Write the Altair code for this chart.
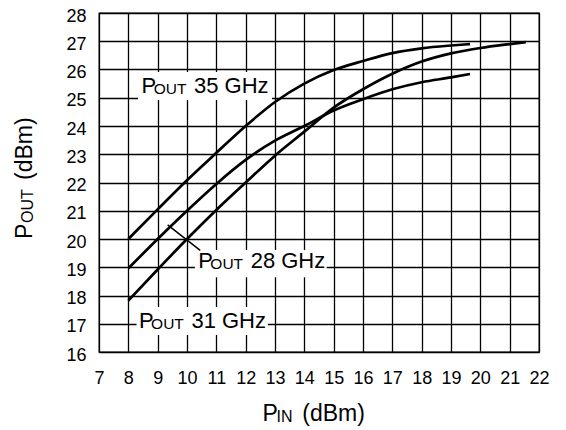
import altair as alt
import pandas as pd

# Axis ticks
x_ticks = list(range(7, 23))
y_ticks = list(range(16, 29))

# Curves (P_IN dBm -> P_OUT dBm)
pin_35 = [8, 9, 10, 11, 12, 13, 14, 15, 16, 17, 18, 19, 19.65]
pout_35 = [20.0, 21.05, 22.08, 23.05, 24.0, 24.85, 25.5, 25.98, 26.3, 26.58, 26.75, 26.85, 26.9]

pin_28 = [8, 9, 10, 11, 12, 13, 14, 15, 16, 17, 18, 19, 19.65]
pout_28 = [18.96, 20.0, 21.0, 21.95, 22.8, 23.48, 24.0, 24.55, 24.95, 25.3, 25.55, 25.72, 25.84]

pin_31 = [8, 9, 10, 11, 12, 13, 14, 15, 16, 17, 18, 19, 20, 21, 21.55]
pout_31 = [17.82, 18.92, 20.0, 21.03, 22.0, 22.95, 23.8, 24.65, 25.3, 25.85, 26.28, 26.57, 26.76, 26.9, 26.97]

# Curve labels (annotation anchors in data units)
label_main = ["P", "P", "P"]
label_sub = ["OUT", "OUT", "OUT"]
label_rest = ["35 GHz", "28 GHz", "31 GHz"]
label_x = [8.45, 10.38, 8.36]
label_y = [25.16, 18.96, 16.85]
box_x1 = [8.33, 10.27, 8.28]
box_x2 = [12.9, 14.76, 12.76]
box_y1 = [24.92, 18.65, 16.6]
box_y2 = [25.91, 19.61, 17.59]

# Leader line for the 28 GHz label
lead_x1 = [9.34]
lead_y1 = [20.5]
lead_x2 = [10.45]
lead_y2 = [19.6]

curves = pd.concat([
    pd.DataFrame({"pin": pin_35, "pout": pout_35, "series": "35 GHz"}),
    pd.DataFrame({"pin": pin_28, "pout": pout_28, "series": "28 GHz"}),
    pd.DataFrame({"pin": pin_31, "pout": pout_31, "series": "31 GHz"}),
], ignore_index=True)

labels = pd.DataFrame({
    "main": label_main, "sub": label_sub, "rest": label_rest,
    "x": label_x, "y": label_y,
    "x1": box_x1, "x2": box_x2, "y1": box_y1, "y2": box_y2,
})
leader = pd.DataFrame({"x": lead_x1, "y": lead_y1, "x2": lead_x2, "y2": lead_y2})
one = pd.DataFrame({"a": [0]})

FONT = "Liberation Sans"
TICKFONT = "Liberation Sans"

xs = alt.Scale(domain=[7, 22], nice=False, zero=False)
ys = alt.Scale(domain=[16, 28], nice=False, zero=False)

x_axis = alt.Axis(values=x_ticks, title=None, grid=True, ticks=False, tickSize=0,
                  domain=False, labelFont=TICKFONT, labelFontSize=18, labelPadding=17,
                  labelColor="black", gridColor="black", gridWidth=1.3, gridOpacity=1,
                  labelFlush=False, labelOverlap=False)
y_axis = alt.Axis(values=y_ticks, title=None, grid=True, ticks=False, tickSize=0,
                  domain=False, labelFont=TICKFONT, labelFontSize=18, labelPadding=13,
                  labelOffset=3,
                  labelColor="black", gridColor="black", gridWidth=1.3, gridOpacity=1,
                  labelFlush=False, labelOverlap=False)


def X(field):
    return alt.X(field, scale=xs, axis=x_axis)


def Y(field):
    return alt.Y(field, scale=ys, axis=y_axis)


lines = alt.Chart(curves).mark_line(color="black", strokeWidth=2.7, interpolate="monotone").encode(
    x=X("pin:Q"), y=Y("pout:Q"), detail="series:N",
)

boxes = alt.Chart(labels).mark_rect(color="white", opacity=1).encode(
    x=X("x1:Q"), x2="x2:Q", y=Y("y1:Q"), y2="y2:Q",
)

t_main = alt.Chart(labels).mark_text(font=FONT, fontSize=22, align="left", baseline="alphabetic",
                                     color="black").encode(
    x=X("x:Q"), y=Y("y:Q"), text="main:N")
t_sub = alt.Chart(labels).mark_text(font=FONT, fontSize=15.5, align="left", baseline="alphabetic",
                                    color="black", dx=12.2, dy=1).encode(
    x=X("x:Q"), y=Y("y:Q"), text="sub:N")
t_rest = alt.Chart(labels).mark_text(font=FONT, fontSize=22, align="left", baseline="alphabetic",
                                     color="black", dx=52.5).encode(
    x=X("x:Q"), y=Y("y:Q"), text="rest:N")

lead = alt.Chart(leader).mark_rule(color="black", strokeWidth=1.5).encode(
    x=X("x:Q"), y=Y("y:Q"), x2="x2:Q", y2="y2:Q")

# Axis titles with subscripts
xt1 = alt.Chart(one).mark_text(text="P", font=FONT, fontSize=23, align="left",
                               baseline="alphabetic", color="black").encode(
    x=alt.value(163.6), y=alt.value(408))
xt2 = alt.Chart(one).mark_text(text="IN", font=FONT, fontSize=16, align="left",
                               baseline="alphabetic", color="black", dx=14, dy=1).encode(
    x=alt.value(163.6), y=alt.value(408))
xt3 = alt.Chart(one).mark_text(text="(dBm)", font=FONT, fontSize=23, align="left",
                               baseline="alphabetic", color="black", dx=39.7).encode(
    x=alt.value(163.6), y=alt.value(408))

yt1 = alt.Chart(one).mark_text(text="P", font=FONT, fontSize=23, align="left", angle=270,
                               baseline="alphabetic", color="black").encode(
    x=alt.value(-67.3), y=alt.value(226))
yt2 = alt.Chart(one).mark_text(text="OUT", font=FONT, fontSize=16, align="left", angle=270,
                               baseline="alphabetic", color="black", dx=16, dy=1).encode(
    x=alt.value(-67.3), y=alt.value(226))
yt3 = alt.Chart(one).mark_text(text="(dBm)", font=FONT, fontSize=23, align="left", angle=270,
                               baseline="alphabetic", color="black", dx=59).encode(
    x=alt.value(-67.3), y=alt.value(226))

chart = alt.layer(
    lines, boxes, lead, t_main, t_sub, t_rest, xt1, xt2, xt3, yt1, yt2, yt3
).properties(
    width=440, height=339,
    autosize=alt.AutoSizeParams(type="none"),
    padding={"left": 91, "top": 5, "right": 19, "bottom": 74},
    background="white",
).configure_view(
    stroke="black", strokeWidth=1.3
)

chart.save("out.html", embed_options={"renderer": "svg", "actions": False})
